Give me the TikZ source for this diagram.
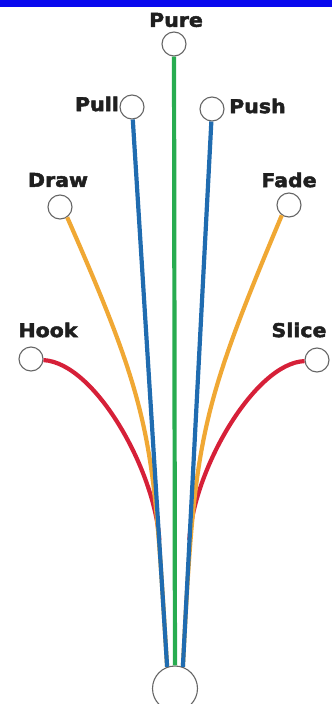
\documentclass[tikz,border=0pt]{standalone}
\usepackage{fontspec}
\newfontfamily\lblfont{DejaVu Sans}[FakeStretch=1.08,BoldFeatures={FakeBold=2.5}]
\definecolor{barblue}{RGB}{8,8,238}
\definecolor{wgreen}{RGB}{40,172,80}
\definecolor{wblue}{RGB}{32,108,176}
\definecolor{worange}{RGB}{240,168,52}
\definecolor{wred}{RGB}{214,32,56}
\begin{document}
\begin{tikzpicture}[x=1pt,y=-1pt,
    dot/.style={circle,draw=black!60,fill=white,line width=1.1pt,minimum size=24pt,inner sep=0pt},
    lbl/.style={font=\lblfont\bfseries\fontsize{19}{21}\selectfont,text=black!88,inner sep=0pt},
    wire/.style={line width=4.2pt}]
  \useasboundingbox (0,0) rectangle (332,704);
  \clip (0,0) rectangle (332,704);
  \fill[barblue] (0,0) rectangle (332,7);
  % circles
  \node[dot] (Pure) at (174,44) {};
  \node[dot] (Pull) at (132,107) {};
  \node[dot] (Push) at (212,109) {};
  \node[dot] (Draw) at (60,207) {};
  \node[dot] (Fade) at (289,205) {};
  \node[dot] (Hook) at (31,359) {};
  \node[dot] (Slice) at (317,360) {};
  \node[dot,minimum size=45pt] (Bot) at (175,688.5) {};
  % labels
  \node[lbl] (lPure) at (176,20) {Pure};
  \node[lbl,anchor=east] (lPull) at (119,104) {Pull};
  \node[lbl,anchor=west] (lPush) at (229,106) {Push};
  \node[lbl] (lDraw) at (58,180) {Draw};
  \node[lbl] (lFade) at (289,180) {Fade};
  \node[lbl] (lHook) at (48,330) {Hook};
  \node[lbl] (lSlice) at (299,330) {Slice};
  % where the red wires run in under the blue ones
  \coordinate (hookEnd) at (159.3,540);
  \coordinate (sliceEnd) at (189.4,540);
  % wires
  \draw[wire,wred] (Hook.-5) .. controls (95,363) and (154.9,470) .. (hookEnd);
  \draw[wire,wred] (Slice.185) .. controls (255,363) and (193,470) .. (sliceEnd);
  \draw[wire,worange] (Draw.-55) .. controls (155,417) and (153,440) .. (Bot.110);
  \draw[wire,worange] (Fade.-125) .. controls (198,415) and (194.6,440) .. (Bot.70);
  \draw[wire,wblue] (Pull) -- (Bot.110);
  \draw[wire,wblue] (Push) -- (Bot.70);
  \draw[wire,wgreen] (Pure) -- (Bot);
\end{tikzpicture}
\end{document}
